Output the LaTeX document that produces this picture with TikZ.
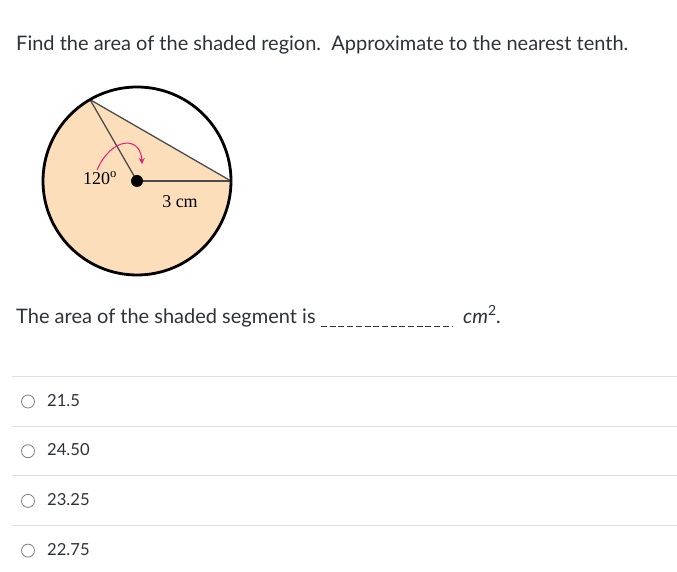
\documentclass[tikz,border=0pt]{standalone}
\usepackage{fontspec}
\setmainfont{Lato}
\newfontfamily\figfont{Liberation Serif}
\usetikzlibrary{arrows.meta}
\usetikzlibrary{positioning}
\definecolor{peach}{RGB}{252,222,186}
\definecolor{hotpink}{RGB}{228,30,120}
\definecolor{rulegray}{RGB}{222,222,222}
\definecolor{textgray}{RGB}{45,50,55}
\tikzset{ q_text/.style = {anchor=base west, inner sep=0pt, font=\fontsize{20}{24}\selectfont, text=textgray} }
\tikzset{ opt_text/.style = {anchor=base west, inner sep=0pt, font=\fontsize{16.6}{20}\selectfont, text=textgray} }
\tikzset{ fig_label/.style = {inner sep=0pt, font=\figfont\fontsize{18}{21}\selectfont} }
\tikzset{ sep_line/.style = {draw=rulegray, line width=1pt} }
\tikzset{ radio_btn/.style = {circle, draw=gray, line width=0.8pt, minimum size=13pt, inner sep=0pt} }

\begin{document}
\begin{tikzpicture}[x=1pt, y=1pt]
    \useasboundingbox (0,0) rectangle (677,572);
    \node[q_text] (title) at (16,521) {Find the area of the shaded region.\ \ Approximate to the nearest tenth.};
    % circle with the shaded part
    \coordinate (O) at (137,391);
    \coordinate (A) at (90,472.4);
    \coordinate (B) at (231,391);
    \fill[peach] (A) arc[start angle=120, end angle=360, radius=94] -- cycle;
    \draw[line width=1.3pt, draw=black!70] (O) -- (A);
    \draw[line width=1.3pt, draw=black!70] (O) -- (B);
    \draw[line width=1.3pt, draw=black!70] (A) -- (B);
    \draw[line width=2.8pt] (O) circle[radius=94];
    \fill (O) circle[radius=6];
    \draw[hotpink, line width=1pt, -{Stealth[length=6pt, width=6pt]}] (97,402) .. controls (112,436) and (141,436) .. (142,408);
    \node[fig_label] (ang) at (100,394) {120\textsuperscript{o}};
    \node[fig_label] (rad) at (180,370) {3 cm};
    % answer line
    \node[q_text] (stem) at (16,248.7) {The area of the shaded segment is};
    \coordinate (blankL) at (321,246);
    \coordinate (blankR) at (452,246);
    \draw[textgray, line width=0.8pt, dash pattern=on 6pt off 2.7pt] (blankL) -- (blankR);
    \node[q_text] (unit) at (463,248.7) {\itshape cm\textsuperscript{\upshape 2}.};
    % choices
    \foreach \y in {195,145,96,46}
        \draw[sep_line] (12,\y) -- (677,\y);
    \foreach \val [count=\i] in {21.5,24.50,23.25,22.75} {
        \node[radio_btn] (radio\i) at (28,{170.5-49.7*(\i-1)}) {};
        \node[opt_text] (opt\i) at (47,{165.7-49.7*(\i-1)}) {\val};
    }
\end{tikzpicture}
\end{document}
